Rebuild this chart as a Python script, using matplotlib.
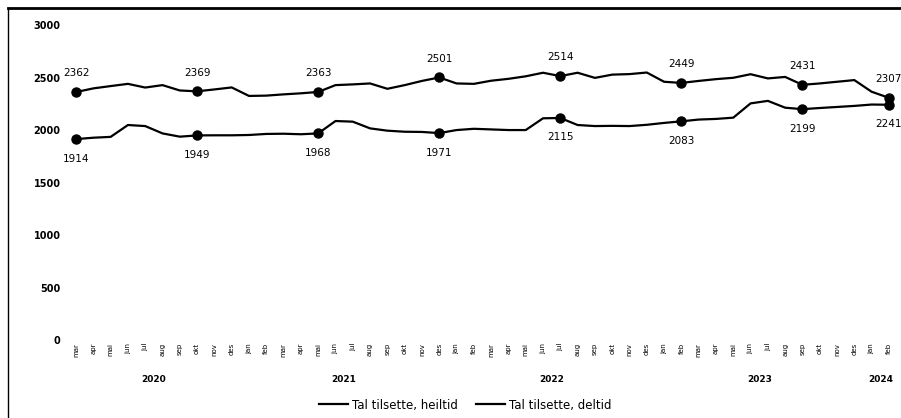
import matplotlib
matplotlib.use("Agg")
import matplotlib.pyplot as plt
import matplotlib.transforms as mtransforms
from matplotlib.lines import Line2D
import numpy as np

# months mar 2020 - feb 2024
months = ["mar", "apr", "mai", "jun", "jul", "aug", "sep", "okt", "nov", "des", "jan", "feb"] * 4
years = ["2020", "2021", "2022", "2023", "2024"]
year_start = [0, 10, 22, 34, 46]
year_end = [9, 21, 33, 45, 47]

heiltid = [2362, 2397, 2419, 2440, 2405, 2428, 2377, 2369, 2387, 2406,
           2325, 2328, 2340, 2350, 2363, 2428, 2435, 2444, 2393, 2428,
           2468, 2501, 2444, 2440, 2470, 2488, 2512, 2546, 2514, 2546,
           2497, 2528, 2533, 2548, 2460, 2449, 2468, 2485, 2498, 2532,
           2492, 2506, 2431, 2444, 2460, 2476, 2365, 2307]
deltid = [1914, 1927, 1935, 2048, 2038, 1968, 1937, 1949, 1950, 1950,
          1953, 1963, 1965, 1960, 1968, 2086, 2080, 2016, 1994, 1984,
          1982, 1971, 2000, 2012, 2006, 2000, 2000, 2112, 2115, 2048,
          2038, 2040, 2038, 2050, 2068, 2083, 2100, 2106, 2118, 2254,
          2278, 2213, 2199, 2210, 2220, 2230, 2243, 2241]
marked = [0, 7, 14, 21, 28, 35, 42, 47]

x = np.arange(len(months))

fig = plt.figure(figsize=(9.01, 4.18), dpi=100)
ax = fig.add_axes([0.0748, 0.1866, 0.9214, 0.7534])

ax.plot(x, heiltid, color="black", lw=1.6, label="Tal tilsette, heiltid")
ax.plot(x, deltid, color="black", lw=1.6, label="Tal tilsette, deltid")
ax.plot(x[marked], np.array(heiltid)[marked], "o", color="black", ms=6.5)
ax.plot(x[marked], np.array(deltid)[marked], "o", color="black", ms=6.5)

for i in marked:
    ax.annotate(str(heiltid[i]), (x[i], heiltid[i]), xytext=(0, 13.5),
                textcoords="offset points", ha="center", va="center", fontsize=7.5)
    ax.annotate(str(deltid[i]), (x[i], deltid[i]), xytext=(0, -14),
                textcoords="offset points", ha="center", va="center", fontsize=7.5)

ax.set_xlim(-0.5, len(months) - 0.5)
ax.set_ylim(0, 3000)
ax.set_yticks([0, 500, 1000, 1500, 2000, 2500, 3000])
ax.set_xticks(x)
ax.set_xticklabels(months, rotation=90, fontsize=5)
for lab in ax.get_yticklabels():
    lab.set_fontweight("bold")
ax.tick_params(axis="y", length=0, labelsize=7, pad=5)
ax.tick_params(axis="x", length=0, pad=2)
for s in ax.spines.values():
    s.set_visible(False)

trans = mtransforms.blended_transform_factory(ax.transData, ax.transAxes)
for yr, a, b in zip(years, year_start, year_end):
    ax.text((a + b) / 2, -0.127, yr, transform=trans, ha="center", va="center",
            fontsize=6.5, fontweight="bold")

fig.legend(loc="center", bbox_to_anchor=(465 / 901, 1 - 405 / 418), ncol=2,
           frameon=False, fontsize=8.5, handlelength=2.5, handletextpad=0.3,
           columnspacing=1.5)

# outer frame
fig.add_artist(Line2D([8 / 901, 1], [1 - 8 / 418, 1 - 8 / 418], color="black", lw=2))
fig.add_artist(Line2D([8 / 901, 8 / 901], [0, 1 - 8 / 418], color="black", lw=1))

fig.savefig("out.png", dpi=100)
